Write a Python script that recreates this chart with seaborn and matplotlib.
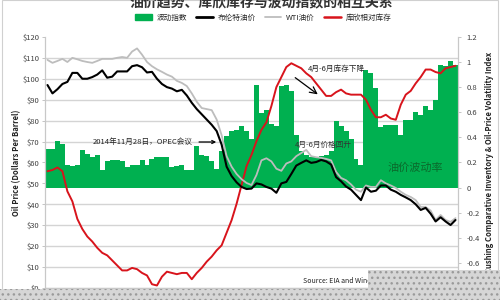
import numpy as np
import pandas as pd
import matplotlib
matplotlib.use("Agg")
import matplotlib.pyplot as plt
import seaborn as sns
from matplotlib.patches import Patch, Rectangle
from matplotlib.lines import Line2D
from matplotlib.ticker import FixedLocator

# ---------------- data (weekly index) ----------------
volatility = [0.31, 0.31, 0.37, 0.35, 0.18, 0.17, 0.18, 0.30, 0.27, 0.24,
              0.26, 0.14, 0.21, 0.22, 0.22, 0.21, 0.16, 0.18, 0.18, 0.22,
              0.18, 0.23, 0.24, 0.24, 0.24, 0.16, 0.17, 0.18, 0.14, 0.14,
              0.33, 0.26, 0.25, 0.21, 0.15, 0.29, 0.41, 0.45, 0.46, 0.49,
              0.45, 0.39, 0.82, 0.59, 0.62, 0.51, 0.49, 0.81, 0.82, 0.77,
              0.42, 0.29, 0.26, 0.24, 0.24, 0.25, 0.26, 0.29, 0.53, 0.49,
              0.45, 0.39, 0.23, 0.18, 0.94, 0.91, 0.79, 0.48, 0.50, 0.50,
              0.50, 0.42, 0.54, 0.54, 0.60, 0.58, 0.65, 0.62, 0.70, 0.98,
              0.97, 1.01, 0.98]
brent = [97, 93, 95, 97.5, 98.5, 102.8, 102.8, 100, 100, 100.8,
         102, 104, 100.5, 101, 103.5, 103.5, 103.5, 106, 106.5, 105.5,
         103, 103.3, 100, 97.5, 96, 95.3, 94, 94.7, 92, 88.5,
         85.5, 83, 80.5, 78, 75, 68.5, 58, 53.5, 50.5, 48.3,
         47.3, 47.5, 50, 49.5, 48.3, 47.5, 45.5, 50, 50.7, 54.5,
         58.5, 59.8, 61, 59.8, 60.2, 61.2, 60.5, 59, 53, 51,
         48.5, 47, 44.5, 42, 48, 46, 46.5, 49, 49, 47,
         46, 44.5, 43.3, 42, 40, 37.3, 38.3, 35.5, 31.8, 33.8,
         31.8, 30.1, 32.5]
wti = [109, 107.6, 108.5, 109.5, 108, 110, 109.3, 108.5, 108, 107.6,
       108.5, 109.5, 109.5, 109.5, 110, 110.4, 110, 113, 114.5, 111.5,
       108, 106, 104.5, 103.3, 102, 101, 99, 98, 96.5, 93,
       89, 86, 85.5, 85, 80.5, 73, 63, 58, 54.5, 52,
       50.2, 49.2, 54, 61, 62, 60.5, 57, 56, 59.5, 60.5,
       63, 64.5, 66, 63, 62.5, 62.2, 61.7, 61, 55.5, 52.6,
       51.5, 49.5, 47, 46, 49, 48.3, 48.3, 51.5, 50, 49,
       47.8, 46, 44.5, 43.5, 42, 38.7, 38.7, 37, 32.5, 34.9,
       32.5, 31.6, 33.4]
inventory = [0.13, 0.14, 0.16, 0.13, -0.03, -0.11, -0.25, -0.33, -0.39, -0.43,
             -0.48, -0.52, -0.54, -0.58, -0.62, -0.66, -0.66, -0.64, -0.65, -0.68,
             -0.70, -0.77, -0.78, -0.71, -0.67, -0.68, -0.69, -0.68, -0.68, -0.73,
             -0.68, -0.64, -0.59, -0.55, -0.50, -0.46, -0.36, -0.26, -0.13, 0.02,
             0.17, 0.26, 0.37, 0.46, 0.52, 0.65, 0.80, 0.88, 0.96, 0.99,
             0.97, 0.95, 0.91, 0.88, 0.83, 0.78, 0.73, 0.73, 0.76, 0.78,
             0.75, 0.74, 0.74, 0.74, 0.70, 0.62, 0.56, 0.56, 0.58, 0.55,
             0.54, 0.66, 0.74, 0.77, 0.83, 0.88, 0.94, 0.94, 0.92, 0.91,
             0.95, 0.96, 0.97]
week = list(range(len(brent)))

price_ticks = list(range(0, 121, 10))
price_labels = [f"${v}" for v in price_ticks]
index_ticks = [-0.6, -0.4, -0.2, 0, 0.2, 0.4, 0.6, 0.8, 1.0, 1.2]
index_labels = ["-0.6", "-0.4", "-0.2", "0", "0.2", "0.4", "0.6", "0.8", "1", "1.2"]

legend_labels = ["波动指数", "布伦特油价", "WTI油价", "库欣相对库存"]
title = "油价趋势、库欣库存与波动指数的相互关系"

df = pd.DataFrame({"week": week, "vol": volatility, "brent": brent,
                   "wti": wti, "inv": inventory})

# ---------------- style ----------------
sns.set_theme(style="white")
plt.rcParams["font.family"] = ["Noto Sans CJK SC", "DejaVu Sans"]

GREEN = "#00b050"
RED = "#d8141c"
GRAY = "#bdbdbd"

fig = plt.figure(figsize=(5, 3), dpi=100)
fig.patch.set_facecolor("white")
ax = fig.add_axes([0.09, 0.04, 0.826, 0.837])   # index axis (shown on the right)
axp = ax.twinx()                                   # price axis (shown on the left)

# volatility index as a filled step area, one bin per week
sns.histplot(data=df, x="week", weights="vol", discrete=True, element="step",
             fill=True, color=GREEN, alpha=1, linewidth=0, ax=ax)
sns.lineplot(data=df, x="week", y="inv", color=RED, lw=1.4, ax=ax, legend=False)

# price lines
sns.lineplot(data=df, x="week", y="wti", color=GRAY, lw=1.3, ax=axp, legend=False)
sns.lineplot(data=df, x="week", y="brent", color="black", lw=1.5, ax=axp, legend=False)

ax.set_xlim(-0.5, len(week) - 0.5)
ax.set_ylim(-0.8, 1.2)
axp.set_ylim(0, 120)

# swap sides: index ticks right, price ticks left
ax.yaxis.tick_right()
ax.yaxis.set_label_position("right")
axp.yaxis.tick_left()
axp.yaxis.set_label_position("left")

axp.set_yticks(price_ticks)
axp.set_yticklabels(price_labels)
ax.set_yticks(index_ticks)
ax.set_yticklabels(index_labels)
ax.set_xticks([])
ax.set_xlabel("")

# gridlines at $10 steps, beneath the area
ax.yaxis.set_minor_locator(FixedLocator([-0.8 + k / 6 for k in range(13)]))
ax.grid(which="minor", axis="y", color="#d4d4d4", lw=1.0)
ax.set_axisbelow(True)
axp.grid(False)

for a in (ax, axp):
    for s in a.spines.values():
        s.set_color("#c8c8c8")
        s.set_linewidth(0.8)
    a.spines["top"].set_visible(False)
axp.tick_params(axis="y", which="major", labelsize=5.5, length=2, width=0.6,
                color="#bbbbbb", labelcolor="#404040", pad=2)
ax.tick_params(axis="y", which="major", labelsize=5.5, length=2, width=0.6,
               color="#bbbbbb", labelcolor="#404040", pad=4)
ax.tick_params(axis="y", which="minor", length=0)

axp.set_ylabel("Oil Price (Dollars Per Barrel)", fontsize=5.5, fontweight="bold",
               color="#222222", labelpad=1)
ax.set_ylabel("Cushing Comparative Inventory & Oil-Price Volatility Index",
              fontsize=5.5, fontweight="bold", color="#222222", labelpad=4)

# ---------------- annotations ----------------
axp.annotate("2014年11月28日，OPEC会议", xy=(219, 158), xytext=(193, 158),
             xycoords="figure pixels", textcoords="figure pixels",
             ha="right", va="center", fontsize=5.5, color="#222222",
             arrowprops=dict(arrowstyle="->", color="black", lw=0.9))
axp.annotate("", xy=(320, 204), xytext=(293, 224),
             xycoords="figure pixels", textcoords="figure pixels",
             arrowprops=dict(arrowstyle="->", color="black", lw=0.9))
fig.text(336 / 500, 231 / 300, "4月-6月库存下降", ha="center", va="center",
         fontsize=5.5, color="#222222")
fig.text(323 / 500, 155 / 300, "4月-6月价格回升", ha="center", va="center",
         fontsize=5.5, color="#333333")
fig.text(415 / 500, 132 / 300, "油价波动率", ha="center", va="center",
         fontsize=8, color="#0b6a2c", fontweight="medium")
fig.text(303 / 500, 19 / 300, "Source: EIA and Wind", ha="left", va="center",
         fontsize=5, color="#222222")

# title (cut at top) and legend
fig.text(261 / 500, 298 / 300, title, ha="center", va="center",
         fontsize=10, fontweight="bold", color="#333333")
handles = [Patch(facecolor=GREEN, edgecolor=GREEN),
           Line2D([], [], color="black", lw=2),
           Line2D([], [], color=GRAY, lw=1.3),
           Line2D([], [], color=RED, lw=1.8)]
fig.legend(handles, legend_labels, loc="center", bbox_to_anchor=(263 / 500, 282 / 300),
           ncol=4, frameon=False, fontsize=5.5, handlelength=2.2, handleheight=0.8,
           columnspacing=1.2, handletextpad=0.6)

# outer frame and overlay band
fig.patches.append(Rectangle((0.004, 0.0), 0.992, 1.0, transform=fig.transFigure,
                             fill=False, edgecolor="#d0d0d0", lw=0.8, zorder=0))
fig.patches.append(Rectangle((0, 0), 1, 11 / 300, transform=fig.transFigure,
                             facecolor="#d6d6d6", edgecolor="#9a9a9a", hatch="...",
                             lw=0, zorder=10))
fig.patches.append(Rectangle((368 / 500, 0), 132 / 500, 30 / 300, transform=fig.transFigure,
                             facecolor="#d6d6d6", edgecolor="#9a9a9a", hatch="...",
                             lw=0, zorder=10))

fig.savefig("out.png", dpi=100)
